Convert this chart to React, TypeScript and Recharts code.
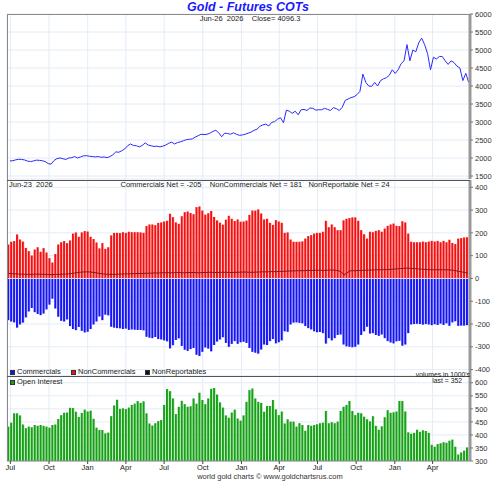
import React from "react";
import {
  ComposedChart,
  LineChart,
  Line,
  Bar,
  XAxis,
  YAxis,
  CartesianGrid,
  ReferenceLine,
} from "recharts";

// weekly COT reports start on this Tuesday, one every 7 days
const firstReport = "2023-06-27";
const axisStart = "2023-06-23";
const axisEnd = "2026-06-29";
const lastReportLabel = "Jun-23  2026";
const lastCloseLabel = "Jun-26  2026    Close= 4096.3";

const quarterDates = [
  "2023-07-01", "2023-10-01", "2024-01-01", "2024-04-01",
  "2024-07-01", "2024-10-01", "2025-01-01", "2025-04-01",
  "2025-07-01", "2025-10-01", "2026-01-01", "2026-04-01",
];
const quarterLabels = ["Jul", "Oct", "Jan", "Apr", "Jul", "Oct", "Jan", "Apr", "Jul", "Oct", "Jan", "Apr"];

const priceTicks = [1500, 2000, 2500, 3000, 3500, 4000, 4500, 5000, 5500, 6000];
const netTicks = [-400, -300, -200, -100, 0, 100, 200, 300, 400];
const oiTicks = [300, 350, 400, 450, 500, 550, 600];

// friday closes, $/oz
const weeklyClose = [
  1920, 1925, 1950, 1965, 1960, 1945, 1915, 1900, 1920, 1940,
  1935, 1925, 1900, 1845, 1830, 1930, 1985, 2000, 1980, 1960,
  2000, 2010, 2040, 2000, 2030, 2060, 2065, 2050, 2040, 2030,
  2040, 2020, 2030, 2010, 2040, 2090, 2170, 2160, 2200, 2250,
  2340, 2390, 2350, 2340, 2310, 2350, 2420, 2360, 2340, 2320,
  2330, 2310, 2330, 2360, 2410, 2440, 2390, 2430, 2450, 2480,
  2510, 2520, 2530, 2580, 2620, 2660, 2650, 2660, 2690, 2740,
  2770, 2700, 2590, 2690, 2680, 2660, 2700, 2660, 2630, 2640,
  2660, 2690, 2720, 2770, 2800, 2880, 2920, 2940, 2890, 2990,
  3010, 3080, 3120, 2980, 3330, 3300, 3240, 3300, 3200, 3340,
  3350, 3320, 3390, 3380, 3330, 3340, 3340, 3380, 3350, 3320,
  3400, 3370, 3320, 3410, 3600, 3640, 3680, 3700, 3760, 3850,
  4330, 4100, 4000, 3990, 4100, 4000, 4150, 4200, 4230, 4300,
  4450, 4350, 4450, 4620, 4700, 5150, 4700, 5000, 4950, 5200,
  5330, 5150, 4900, 4450, 4800, 4750, 4820, 4820, 4700, 4600,
  4700, 4650, 4550, 4500, 4150, 4350, 4096,
];

// net positions, thousands of contracts
const nonCommercials = [
  149, 161, 164, 193, 171, 162, 134, 120, 101, 127, 137, 117, 133, 114, 89, 70, 107, 149, 159, 164,
  155, 167, 197, 202, 183, 202, 208, 206, 183, 173, 158, 132, 155, 130, 137, 189, 200, 200, 199,
  203, 200, 205, 203, 203, 203, 202, 200, 230, 237, 237, 234, 244, 246, 250, 253, 284, 269, 246, 240,
  273, 291, 294, 287, 282, 313, 316, 298, 280, 286, 296, 270, 255, 245, 236, 258, 275, 262, 252,
  259, 249, 250, 254, 279, 298, 298, 303, 285, 259, 262, 244, 235, 256, 250, 244, 200, 202, 171, 161,
  161, 161, 163, 175, 186, 190, 197, 200, 200, 205, 253, 225, 237, 225, 212, 212, 255, 262, 265, 268,
  268, 253, 212, 194, 175, 205, 203, 209, 212, 205, 219, 231, 237, 241, 231, 230, 251, 246, 197, 161,
  159, 159, 159, 162, 159, 162, 165, 162, 165, 159, 165, 159, 170, 156, 151, 175, 177, 180, 181,
];

const commercials = [
  -183, -189, -193, -216, -202, -194, -171, -145, -130, -148, -156, -161, -154, -136, -115, -89, -132, -168, -186, -189,
  -180, -209, -222, -227, -213, -230, -237, -234, -222, -202, -189, -167, -183, -159, -162, -212, -216, -218, -219,
  -222, -220, -226, -224, -225, -226, -226, -228, -256, -260, -262, -257, -266, -268, -272, -276, -307, -293, -270, -263,
  -296, -313, -318, -310, -305, -335, -340, -322, -303, -308, -320, -292, -277, -268, -258, -283, -300, -287, -275,
  -287, -280, -278, -283, -305, -322, -326, -330, -312, -290, -292, -275, -266, -285, -280, -272, -232, -234, -202, -194,
  -193, -195, -197, -209, -218, -224, -232, -236, -235, -240, -286, -262, -272, -262, -248, -246, -290, -298, -300, -302,
  -300, -290, -248, -232, -212, -242, -240, -248, -252, -246, -262, -275, -281, -285, -276, -274, -295, -290, -240, -202,
  -200, -199, -200, -203, -200, -202, -205, -201, -204, -198, -204, -197, -208, -193, -188, -208, -207, -207, -205,
];

const nonReportables = [
  22, 21, 20, 20, 19, 19, 18, 18, 18, 19, 19, 19, 18, 18, 17, 17, 18, 18, 19, 19, 20,
  21, 23, 25, 27, 28, 29, 29, 28, 26, 24, 22, 20, 19, 18, 18,
  18, 19, 19, 20, 20, 20, 21, 21, 22, 22, 22, 23, 23, 24, 24, 24, 25, 25, 25, 25,
  25, 26, 26, 25, 25, 26, 26, 26, 25, 25, 26, 26, 27, 27, 26, 26, 27, 27, 27, 26,
  26, 27, 27, 28, 28, 28, 27, 27, 28, 28, 29, 29, 29, 30, 30,
  30, 31, 31, 32, 32, 33, 33, 34, 34, 34, 35, 35, 35, 36, 36, 36, 35, 36, 37, 37, 36, 34, 30,
  15, 24,
  33, 34, 34, 35, 35, 36, 36, 37, 37, 38, 38, 38, 39, 39, 40,
  41, 42, 43, 44, 45, 45, 44, 43, 42, 41,
  40, 39, 39, 38, 38, 38, 38, 38, 38, 37,
  36, 34, 31, 29, 26, 24,
];

const openInterest = [
  432, 447, 483, 483, 475, 440, 426, 432, 429, 438, 435, 438, 435, 432, 428, 438, 440, 461, 476, 485,
  486, 504, 503, 489, 469, 484, 497, 490, 493, 462, 428, 419, 419, 406, 409, 472, 513, 535, 500,
  502, 499, 505, 515, 520, 530, 523, 529, 483, 444, 436, 445, 453, 457, 515, 576, 568, 540, 480, 508,
  531, 518, 508, 510, 540, 520, 562, 534, 518, 540, 577, 580, 555, 525, 505, 475, 466, 486, 497,
  463, 455, 475, 527, 572, 578, 540, 527, 523, 489, 511, 511, 534, 498, 476, 490, 444, 460, 451, 451,
  432, 445, 438, 416, 438, 435, 438, 441, 445, 447, 492, 445, 449, 445, 451, 492, 508, 515, 530, 492, 476,
  485, 483, 470, 460, 452, 472, 435, 420, 433, 468, 495, 485, 487, 490,
  530, 530, 490, 410, 405, 408, 420, 412, 418, 415, 408, 362, 355, 365, 368, 372, 370, 378, 382, 355,
  325, 333, 340, 352,
];

const FONT = '"Liberation Sans", Arial, Helvetica, sans-serif';
const GRID = "#e3ecf7";
const W = 497;

const dayOf = (s: string) => Math.round((Date.parse(s) - Date.parse(firstReport)) / 86400000);
const tickDays = quarterDates.map(dayOf);
const X_DOMAIN = [dayOf(axisStart), dayOf(axisEnd)];
const monthLabel = (v: number) => quarterLabels[tickDays.indexOf(v)] ?? "";

const priceRows = weeklyClose.map((price, i) => ({ t: i * 7 + 3, price }));
const cotRows = commercials.map((comm, i) => ({
  t: i * 7,
  comm,
  nonComm: nonCommercials[i],
  nonRep: nonReportables[i],
}));
const oiRows = openInterest.map((oi, i) => ({ t: i * 7, oi }));

const xProps: any = {
  type: "number",
  dataKey: "t",
  domain: X_DOMAIN,
  ticks: tickDays,
  allowDataOverflow: true,
  interval: 0,
};

const yProps: any = {
  orientation: "right",
  width: 27,
  interval: 0,
  allowDataOverflow: true,
  tickSize: 3,
  tickMargin: 2,
  axisLine: { stroke: "#9a9a9a", strokeWidth: 3 },
  tickLine: { stroke: "#777" },
  tick: { fontSize: 7.5, fill: "#333", fontFamily: FONT },
};

const margin = { top: 8, right: 0, bottom: 0, left: 7 };

function Txt({ x, y, children, anchor = "left", size = 7.5, color = "#222" }: any) {
  const shift = anchor === "center" ? "translateX(-50%)" : anchor === "right" ? "translateX(-100%)" : "none";
  return (
    <div
      style={{
        position: "absolute",
        left: x,
        top: y - 5,
        height: 10,
        lineHeight: "10px",
        fontSize: size,
        fontFamily: FONT,
        color,
        whiteSpace: "pre",
        transform: shift,
      }}
    >
      {children}
    </div>
  );
}

function Swatch({ x, y, color }: any) {
  return (
    <div
      style={{
        position: "absolute",
        left: x,
        top: y - 2.5,
        width: 5,
        height: 5,
        background: color,
        border: "0.5px solid #333",
        boxSizing: "border-box",
      }}
    />
  );
}

function Rule({ x, y, w, h, color }: any) {
  return <div style={{ position: "absolute", left: x, top: y, width: w, height: h, background: color }} />;
}

function BarGradient({ id, dark, light }: any) {
  return (
    <linearGradient id={id} x1="0" y1="0" x2="1" y2="0">
      <stop offset="0%" stopColor={dark} />
      <stop offset="55%" stopColor={dark} />
      <stop offset="100%" stopColor={light} />
    </linearGradient>
  );
}

export default function App() {
  return (
    <div style={{ position: "absolute", left: 0, top: 0, width: W, height: 481, background: "#fff", overflow: "hidden" }}>
      {/* price panel */}
      <div style={{ position: "absolute", left: 0, top: 6 }}>
        <LineChart width={W} height={179} data={priceRows} margin={{ ...margin, bottom: 6 }}>
          <CartesianGrid stroke={GRID} />
          <XAxis {...xProps} hide />
          <YAxis {...yProps} domain={[1417, 6000]} ticks={priceTicks} />
          <Line
            type="linear"
            dataKey="price"
            stroke="#2a2aff"
            strokeWidth={1}
            dot={false}
            isAnimationActive={false}
          />
        </LineChart>
      </div>

      {/* net positions panel */}
      <div style={{ position: "absolute", left: 0, top: 172 }}>
        <ComposedChart width={W} height={204} data={cotRows} margin={margin} stackOffset="sign">
          <defs>
            <BarGradient id="redBar" dark="#f41010" light="#ffb0b0" />
            <BarGradient id="blueBar" dark="#1414f4" light="#b0b0ff" />
          </defs>
          <CartesianGrid stroke={GRID} />
          <XAxis {...xProps} hide />
          <YAxis {...yProps} domain={[-428, 432]} ticks={netTicks} />
          <Bar dataKey="nonComm" stackId="net" fill="url(#redBar)" barSize={2.5} isAnimationActive={false} />
          <Bar dataKey="comm" stackId="net" fill="url(#blueBar)" barSize={2.5} isAnimationActive={false} />
          <ReferenceLine y={0} stroke="#dcdcdc" strokeWidth={1} />
          <Line
            type="linear"
            dataKey="nonRep"
            stroke="#7a1c1c"
            strokeWidth={1}
            dot={false}
            isAnimationActive={false}
          />
        </ComposedChart>
      </div>

      {/* open interest panel */}
      <div style={{ position: "absolute", left: 0, top: 368 }}>
        <ComposedChart width={W} height={107} data={oiRows} margin={margin}>
          <defs>
            <BarGradient id="greenBar" dark="#16a016" light="#a8e0a8" />
          </defs>
          <CartesianGrid stroke={GRID} />
          <XAxis
            {...xProps}
            height={14}
            tickFormatter={monthLabel}
            tickSize={3}
            tickMargin={1}
            axisLine={{ stroke: "#888" }}
            tickLine={{ stroke: "#444" }}
            tick={{ fontSize: 7.5, fill: "#222", fontFamily: FONT }}
          />
          <YAxis {...yProps} domain={[300, 626]} ticks={oiTicks} />
          <Bar dataKey="oi" fill="url(#greenBar)" barSize={2.5} isAnimationActive={false} />
        </ComposedChart>
      </div>

      {/* frame */}
      <Rule x={7} y={14} w={1} h={447} color="#8a8a8a" />
      <Rule x={7} y={14} w={463} h={1} color="#8a8a8a" />
      <Rule x={7} y={179.5} w={463} h={1.2} color="#555" />
      <Rule x={7} y={375.5} w={463} h={1.2} color="#555" />

      {/* titles */}
      <div
        style={{
          position: "absolute",
          left: 248,
          top: 1,
          transform: "translateX(-50%)",
          fontFamily: FONT,
          fontSize: 12.5,
          lineHeight: "13px",
          fontWeight: "bold",
          fontStyle: "italic",
          color: "#1a1aff",
          whiteSpace: "nowrap",
        }}
      >
        Gold - Futures COTs
      </div>
      <Txt x={250} y={19} anchor="center">{lastCloseLabel}</Txt>

      <Txt x={9} y={185}>{lastReportLabel}</Txt>
      <Txt x={161} y={185} anchor="center">Commercials Net = -205</Txt>
      <Txt x={256} y={185} anchor="center">NonCommercials Net = 181</Txt>
      <Txt x={349} y={185} anchor="center">NonReportable Net = 24</Txt>

      <Swatch x={10} y={372} color="#1414f4" />
      <Txt x={17} y={372}>Commercials</Txt>
      <Swatch x={71} y={372} color="#f41010" />
      <Txt x={78} y={372}>NonCommercials</Txt>
      <Swatch x={145} y={372} color="#111" />
      <Txt x={152} y={372}>NonReportables</Txt>
      <Txt x={470} y={374.5} anchor="right" size={6.8}>volumes in 1000's</Txt>

      <Swatch x={10} y={382} color="#16a016" />
      <Txt x={17} y={382}>Open Interest</Txt>
      <Txt x={462} y={381} anchor="right" size={6.8}>last = 352</Txt>

      <Txt x={270} y={476.5} anchor="center" color="#333">world gold charts © www.goldchartsrus.com</Txt>
    </div>
  );
}
